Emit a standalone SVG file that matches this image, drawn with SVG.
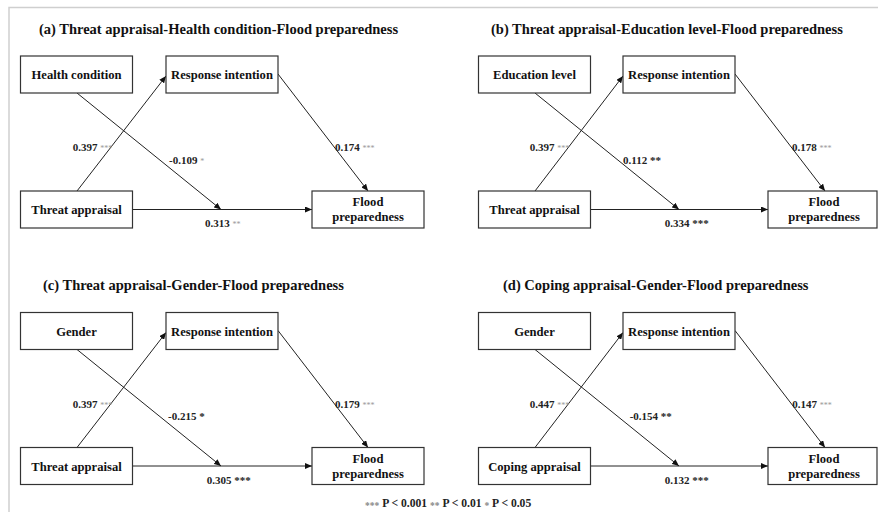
<svg xmlns="http://www.w3.org/2000/svg" width="878" height="512" viewBox="0 0 878 512">
<defs>
<style>
.bg{fill:#fff}
.frame{fill:none;stroke:#cfcfcf;stroke-width:1.5}
.box{fill:#fff;stroke:#333;stroke-width:1.2}
.lbl{font-family:"Liberation Serif","Times New Roman",serif;font-weight:bold;font-size:12.6px;fill:#111;text-anchor:middle}
.ttl{font-family:"Liberation Serif","Times New Roman",serif;font-weight:bold;font-size:14.5px;fill:#111}
.num{font-family:"Liberation Serif","Times New Roman",serif;font-weight:bold;font-size:11px;fill:#222}
.gs{font-size:8px;fill:#999;font-weight:normal}
.bs{fill:#222}
.leg{font-family:"Liberation Serif","Times New Roman",serif;font-weight:bold;font-size:11.6px;fill:#222}
.ls{font-size:9.5px;fill:#888}
.edge{fill:none;stroke:#222;stroke-width:1;marker-end:url(#ah)}
</style>
<marker id="ah" markerWidth="8" markerHeight="6" refX="7" refY="3" orient="auto" markerUnits="userSpaceOnUse">
<path d="M0,0 L7,3 L0,6 z" fill="#111"/>
</marker>
</defs>
<rect class="bg" x="0" y="0" width="878" height="512"/>
<path class="frame" d="M9,512 V7.5 H878"/>

<!-- Titles -->
<text class="ttl" x="39" y="34">(a) Threat appraisal-Health condition-Flood preparedness</text>
<text class="ttl" x="491" y="34">(b) Threat appraisal-Education level-Flood preparedness</text>
<text class="ttl" x="43" y="290">(c) Threat appraisal-Gender-Flood preparedness</text>
<text class="ttl" x="503" y="290">(d) Coping appraisal-Gender-Flood preparedness</text>

<!-- Connectors -->
<g id="connectors">
<path class="edge" d="M77,191 L166,76"/>
<path class="edge" d="M77,93 L221,209.5"/>
<path class="edge" d="M132.5,209.5 L312,209.5"/>
<path class="edge" d="M278,74 L368,191"/>

<path class="edge" d="M535,191 L623,76"/>
<path class="edge" d="M535,93 L679,209.5"/>
<path class="edge" d="M590.5,209.5 L768,209.5"/>
<path class="edge" d="M735,74 L825,191"/>

<path class="edge" d="M77,447.5 L166,332.5"/>
<path class="edge" d="M77,349.5 L221,466"/>
<path class="edge" d="M132.5,466 L312,466"/>
<path class="edge" d="M278,330.5 L368,447.5"/>

<path class="edge" d="M535,447.5 L623,332.5"/>
<path class="edge" d="M535,349.5 L679,466"/>
<path class="edge" d="M590.5,466 L768,466"/>
<path class="edge" d="M735,330.5 L825,447.5"/>
</g>

<!-- Panel (a) nodes -->
<g id="a-health"><rect class="box" x="20.5" y="56" width="112" height="37"/><text class="lbl" x="76.5" y="79">Health condition</text></g>
<g id="a-response"><rect class="box" x="166" y="56" width="112" height="37"/><text class="lbl" x="222" y="79">Response intention</text></g>
<g id="a-threat"><rect class="box" x="20.5" y="191" width="112" height="37"/><text class="lbl" x="76.5" y="214">Threat appraisal</text></g>
<g id="a-flood"><rect class="box" x="312" y="191" width="112" height="37"/><text class="lbl" x="368" y="206">Flood</text><text class="lbl" x="368" y="221">preparedness</text></g>

<!-- Panel (b) nodes -->
<g id="b-education"><rect class="box" x="478.5" y="56" width="112" height="37"/><text class="lbl" x="534.5" y="79">Education level</text></g>
<g id="b-response"><rect class="box" x="623" y="56" width="112" height="37"/><text class="lbl" x="679" y="79">Response intention</text></g>
<g id="b-threat"><rect class="box" x="478.5" y="191" width="112" height="37"/><text class="lbl" x="534.5" y="214">Threat appraisal</text></g>
<g id="b-flood"><rect class="box" x="768" y="191" width="109" height="37"/><text class="lbl" x="824" y="206">Flood</text><text class="lbl" x="824" y="221">preparedness</text></g>

<!-- Panel (c) nodes -->
<g id="c-gender"><rect class="box" x="20.5" y="312.5" width="112" height="37"/><text class="lbl" x="76.5" y="335.5">Gender</text></g>
<g id="c-response"><rect class="box" x="166" y="312.5" width="112" height="37"/><text class="lbl" x="222" y="335.5">Response intention</text></g>
<g id="c-threat"><rect class="box" x="20.5" y="447.5" width="112" height="37"/><text class="lbl" x="76.5" y="470.5">Threat appraisal</text></g>
<g id="c-flood"><rect class="box" x="312" y="447.5" width="112" height="37"/><text class="lbl" x="368" y="462.5">Flood</text><text class="lbl" x="368" y="477.5">preparedness</text></g>

<!-- Panel (d) nodes -->
<g id="d-gender"><rect class="box" x="478.5" y="312.5" width="112" height="37"/><text class="lbl" x="534.5" y="335.5">Gender</text></g>
<g id="d-response"><rect class="box" x="623" y="312.5" width="112" height="37"/><text class="lbl" x="679" y="335.5">Response intention</text></g>
<g id="d-coping"><rect class="box" x="478.5" y="447.5" width="112" height="37"/><text class="lbl" x="534.5" y="470.5">Coping appraisal</text></g>
<g id="d-flood"><rect class="box" x="768" y="447.5" width="109" height="37"/><text class="lbl" x="824" y="462.5">Flood</text><text class="lbl" x="824" y="477.5">preparedness</text></g>

<!-- Edge labels -->
<g id="edge-labels">
<text class="num" x="72.7" y="150.5">0.397 <tspan class="gs">***</tspan></text>
<text class="num" x="169" y="163.5">-0.109 <tspan class="gs">*</tspan></text>
<text class="num" x="335" y="150.5">0.174 <tspan class="gs">***</tspan></text>
<text class="num" x="205" y="227">0.313 <tspan class="gs">**</tspan></text>

<text class="num" x="529.7" y="150.5">0.397 <tspan class="gs">***</tspan></text>
<text class="num" x="623" y="163.5">0.112 <tspan class="bs">**</tspan></text>
<text class="num" x="792" y="150.5">0.178 <tspan class="gs">***</tspan></text>
<text class="num" x="664.7" y="227">0.334 <tspan class="bs">***</tspan></text>

<text class="num" x="72.7" y="408">0.397 <tspan class="gs">***</tspan></text>
<text class="num" x="168" y="420">-0.215 <tspan class="bs">*</tspan></text>
<text class="num" x="335" y="408">0.179 <tspan class="gs">***</tspan></text>
<text class="num" x="206.7" y="483.5">0.305 <tspan class="bs">***</tspan></text>

<text class="num" x="529.7" y="408">0.447 <tspan class="gs">***</tspan></text>
<text class="num" x="629.7" y="420">-0.154 <tspan class="bs">**</tspan></text>
<text class="num" x="792.3" y="408">0.147 <tspan class="gs">***</tspan></text>
<text class="num" x="664.7" y="483.5">0.132 <tspan class="bs">***</tspan></text>
</g>

<!-- Legend -->
<text class="leg" x="365" y="507"><tspan class="ls" dy="2">***</tspan><tspan dy="-2"> P &lt; 0.001 </tspan><tspan class="ls" dy="2">**</tspan><tspan dy="-2"> P &lt; 0.01 </tspan><tspan class="ls" dy="2">*</tspan><tspan dy="-2"> P &lt; 0.05</tspan></text>
</svg>
